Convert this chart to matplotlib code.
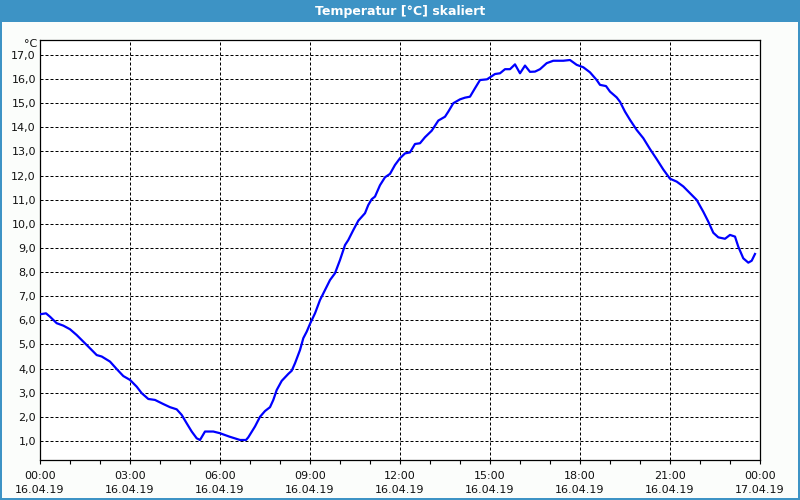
import matplotlib.pyplot as plt
from matplotlib.patches import Rectangle

# time in hours since 16.04.19 00:00, temperature in °C
hours = [0.0, 0.2, 0.333, 0.557, 0.777, 1.0, 1.223, 1.443, 1.667, 1.89,
         2.057, 2.333, 2.557, 2.777, 3.0, 3.223, 3.39, 3.61, 3.833, 4.11,
         4.333, 4.557, 4.723, 4.89, 5.057, 5.223, 5.333, 5.5, 5.777, 6.0,
         6.31, 6.667, 6.867, 6.943, 7.167, 7.333, 7.5, 7.667, 7.777, 7.89,
         8.057, 8.277, 8.39, 8.5, 8.667, 8.777, 8.89, 9.01, 9.167, 9.333,
         9.5, 9.667, 9.833, 10.0, 10.167, 10.277, 10.443, 10.61, 10.833, 10.943,
         11.057, 11.167, 11.333, 11.5, 11.667, 11.833, 12.0, 12.167, 12.333, 12.5,
         12.667, 12.833, 13.057, 13.277, 13.5, 13.61, 13.777, 14.0, 14.167, 14.333,
         14.5, 14.667, 14.9, 15.167, 15.333, 15.5, 15.667, 15.833, 16.0, 16.167,
         16.333, 16.5, 16.667, 16.89, 17.11, 17.443, 17.667, 17.89, 18.11, 18.333,
         18.557, 18.667, 18.867, 19.0, 19.223, 19.333, 19.5, 19.667, 19.89, 20.11,
         20.333, 20.557, 20.777, 21.0, 21.223, 21.443, 21.667, 21.89, 22.11, 22.277,
         22.443, 22.61, 22.833, 23.0, 23.167, 23.277, 23.443, 23.61, 23.723, 23.833]
temps = [6.25, 6.29, 6.15, 5.88, 5.78, 5.63, 5.39, 5.12, 4.84, 4.56,
         4.50, 4.29, 3.98, 3.69, 3.53, 3.25, 2.98, 2.74, 2.70, 2.53,
         2.40, 2.31, 2.08, 1.73, 1.39, 1.11, 1.04, 1.39, 1.39, 1.32,
         1.18, 1.04, 1.04, 1.15, 1.60, 2.00, 2.24, 2.40, 2.70, 3.11,
         3.49, 3.78, 3.91, 4.22, 4.77, 5.26, 5.53, 5.88, 6.29, 6.84,
         7.26, 7.67, 7.95, 8.50, 9.12, 9.33, 9.74, 10.13, 10.44, 10.78,
         11.02, 11.13, 11.60, 11.93, 12.07, 12.44, 12.72, 12.92, 12.96, 13.31,
         13.34, 13.59, 13.86, 14.28, 14.44, 14.65, 15.00, 15.16, 15.23, 15.27,
         15.62, 15.96, 15.99, 16.21, 16.24, 16.41, 16.41, 16.61, 16.24, 16.56,
         16.30, 16.31, 16.41, 16.66, 16.76, 16.76, 16.79, 16.59, 16.49, 16.28,
         15.96, 15.76, 15.71, 15.48, 15.24, 15.06, 14.65, 14.31, 13.89, 13.55,
         13.10, 12.68, 12.25, 11.87, 11.75, 11.55, 11.27, 10.99, 10.50, 10.09,
         9.63, 9.44, 9.38, 9.54, 9.47, 9.05, 8.57, 8.39, 8.47, 8.75]

x_ticks = [0, 3, 6, 9, 12, 15, 18, 21, 24]
x_labels = ["00:00\n16.04.19", "03:00\n16.04.19", "06:00\n16.04.19",
            "09:00\n16.04.19", "12:00\n16.04.19", "15:00\n16.04.19",
            "18:00\n16.04.19", "21:00\n16.04.19", "00:00\n17.04.19"]
y_ticks = list(range(1, 18))
y_labels = [f"{v},0" for v in y_ticks]

bar_col = "#3d93c5"
bg = "#fbfdfb"

fig = plt.figure(figsize=(8, 5), dpi=100, facecolor=bg)

# title bar and window frame
fig.patches.append(Rectangle((0, 1 - 22 / 500), 1, 22 / 500, transform=fig.transFigure,
                             facecolor=bar_col, edgecolor="none", zorder=0))
fig.patches.append(Rectangle((0, 0), 2 / 800, 1, transform=fig.transFigure,
                             facecolor=bar_col, edgecolor="none", zorder=0))
fig.patches.append(Rectangle((1 - 2 / 800, 0), 2 / 800, 1, transform=fig.transFigure,
                             facecolor=bar_col, edgecolor="none", zorder=0))
fig.patches.append(Rectangle((0, 0), 1, 2 / 500, transform=fig.transFigure,
                             facecolor=bar_col, edgecolor="none", zorder=0))
fig.text(0.5, 1 - 11 / 500, "Temperatur [°C] skaliert", color="white",
         fontsize=9, fontweight="bold", ha="center", va="center")

ax = fig.add_axes([40 / 800, 40 / 500, 720 / 800, 420 / 500])
ax.set_facecolor("white")
ax.plot(hours, temps, color="#0000ff", lw=1.6, zorder=3)

ax.set_xlim(0, 24)
ax.set_ylim(0.21, 17.62)
ax.set_xticks(x_ticks)
ax.set_xticklabels(x_labels, fontsize=8, linespacing=1.5, color="#111111")
ax.set_xticks(range(25), minor=True)
ax.set_yticks(y_ticks)
ax.set_yticklabels(y_labels, fontsize=8, color="#111111")
ax.tick_params(axis="x", which="both", direction="out", length=3, width=0.8, pad=5)
ax.tick_params(axis="y", length=0, pad=3)

ax.grid(True, which="major", color="black", lw=0.72, linestyle=(0, (3, 2)))
for s in ax.spines.values():
    s.set_linewidth(0.9)
    s.set_color("black")

ax.text(-0.004, 1 - 4 / 420, "°C", transform=ax.transAxes, ha="right", va="center",
        fontsize=8, color="#111111")

fig.savefig("out.png", dpi=100, facecolor=bg)
